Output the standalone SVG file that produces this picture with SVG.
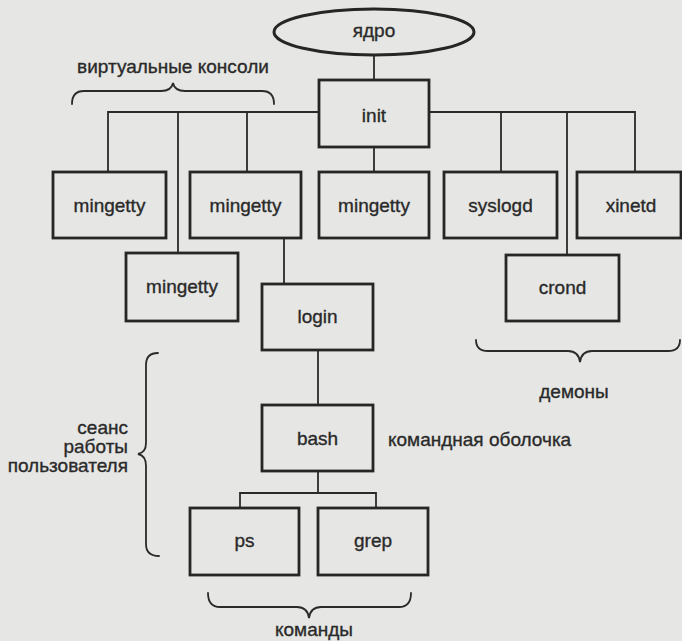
<svg xmlns="http://www.w3.org/2000/svg" width="682" height="641" viewBox="0 0 682 641">
<style>
.bg{fill:#e6e6e4}
.box{fill:none;stroke:#262626;stroke-width:2.8}
.conn{fill:none;stroke:#2a2a2a;stroke-width:1.8}
.brace{fill:none;stroke:#2a2a2a;stroke-width:1.8;stroke-linecap:round}
text{font-family:"Liberation Sans",Arial,sans-serif;font-size:19px;fill:#2a2a2a;stroke:#2a2a2a;stroke-width:0.35}
.c{text-anchor:middle}
.e{text-anchor:end}
</style>
<rect class="bg" x="0" y="0" width="682" height="641"/>

<g id="connectors">
  <line class="conn" x1="374" y1="55" x2="374" y2="80"/>
  <polyline class="conn" points="108,172 108,112 319,112"/>
  <line class="conn" x1="178" y1="112" x2="178" y2="253"/>
  <line class="conn" x1="247" y1="112" x2="247" y2="172"/>
  <line class="conn" x1="374" y1="147" x2="374" y2="172"/>
  <polyline class="conn" points="429,112 635,112 635,172"/>
  <line class="conn" x1="501" y1="112" x2="501" y2="172"/>
  <line class="conn" x1="567" y1="112" x2="567" y2="255"/>
  <line class="conn" x1="284" y1="238" x2="284" y2="284"/>
  <line class="conn" x1="318" y1="350" x2="318" y2="405"/>
  <line class="conn" x1="318" y1="471" x2="318" y2="493"/>
  <polyline class="conn" points="240,508 240,493 376,493 376,508"/>
</g>

<g id="yadro">
  <ellipse class="box" cx="374" cy="32" rx="100" ry="23" style="stroke-width:3"/>
  <text class="c" x="374" y="37">ядро</text>
</g>
<g id="init">
  <rect class="box" x="319" y="80" width="110" height="67"/>
  <text class="c" x="374" y="122">init</text>
</g>
<g id="mingetty1">
  <rect class="box" x="53" y="172" width="113" height="66"/>
  <text class="c" x="109.5" y="212">mingetty</text>
</g>
<g id="mingetty2">
  <rect class="box" x="190" y="172" width="111" height="66"/>
  <text class="c" x="245.5" y="212">mingetty</text>
</g>
<g id="mingetty3">
  <rect class="box" x="319" y="172" width="110" height="66"/>
  <text class="c" x="374" y="212">mingetty</text>
</g>
<g id="syslogd">
  <rect class="box" x="444" y="172" width="113" height="66"/>
  <text class="c" x="500.5" y="212">syslogd</text>
</g>
<g id="xinetd">
  <rect class="box" x="577" y="172" width="104" height="66"/>
  <text class="c" x="631" y="212">xinetd</text>
</g>
<g id="mingetty4">
  <rect class="box" x="126" y="253" width="112" height="68"/>
  <text class="c" x="182" y="293">mingetty</text>
</g>
<g id="login">
  <rect class="box" x="262" y="284" width="111" height="66"/>
  <text class="c" x="317.5" y="323">login</text>
</g>
<g id="crond">
  <rect class="box" x="506" y="255" width="113" height="66"/>
  <text class="c" x="562.5" y="294">crond</text>
</g>
<g id="bash">
  <rect class="box" x="262" y="405" width="111" height="66"/>
  <text class="c" x="317.5" y="445">bash</text>
</g>
<g id="ps">
  <rect class="box" x="190" y="508" width="109" height="67"/>
  <text class="c" x="244.5" y="547">ps</text>
</g>
<g id="grep">
  <rect class="box" x="318" y="508" width="110" height="67"/>
  <text class="c" x="373" y="547">grep</text>
</g>

<g id="label-consoles">
  <path class="brace" d="M72,104 C72,95 76,91 84,91 L161,91 C168,91 172,88 173,83 C174,88 178,91 185,91 L262,91 C270,91 274,95 274,104"/>
  <text class="c" x="173" y="73">виртуальные консоли</text>
</g>
<g id="label-daemons">
  <path class="brace" d="M476,340 C476,347 480,351 488,351 L568,351 C575,351 579,355 580,362 C581,355 585,351 592,351 L668,351 C676,351 680,347 680,340"/>
  <text class="c" x="574" y="398">демоны</text>
</g>
<g id="label-session">
  <path class="brace" d="M158,353 C150,353 146,357 146,365 L146,443 C146,450 143,453 138,454 C143,455 146,458 146,466 L146,544 C146,552 150,556 159,556"/>
  <text class="e" x="128" y="434">сеанс</text>
  <text class="e" x="128" y="453">работы</text>
  <text class="e" x="128" y="472">пользователя</text>
</g>
<g id="label-shell">
  <text x="388" y="446">командная оболочка</text>
</g>
<g id="label-commands">
  <path class="brace" d="M208,593 C208,602 212,607 220,607 L297,607 C304,607 308,611 309,618 C310,611 314,607 321,607 L399,607 C407,607 411,602 411,593"/>
  <text class="c" x="314" y="636">команды</text>
</g>
</svg>
